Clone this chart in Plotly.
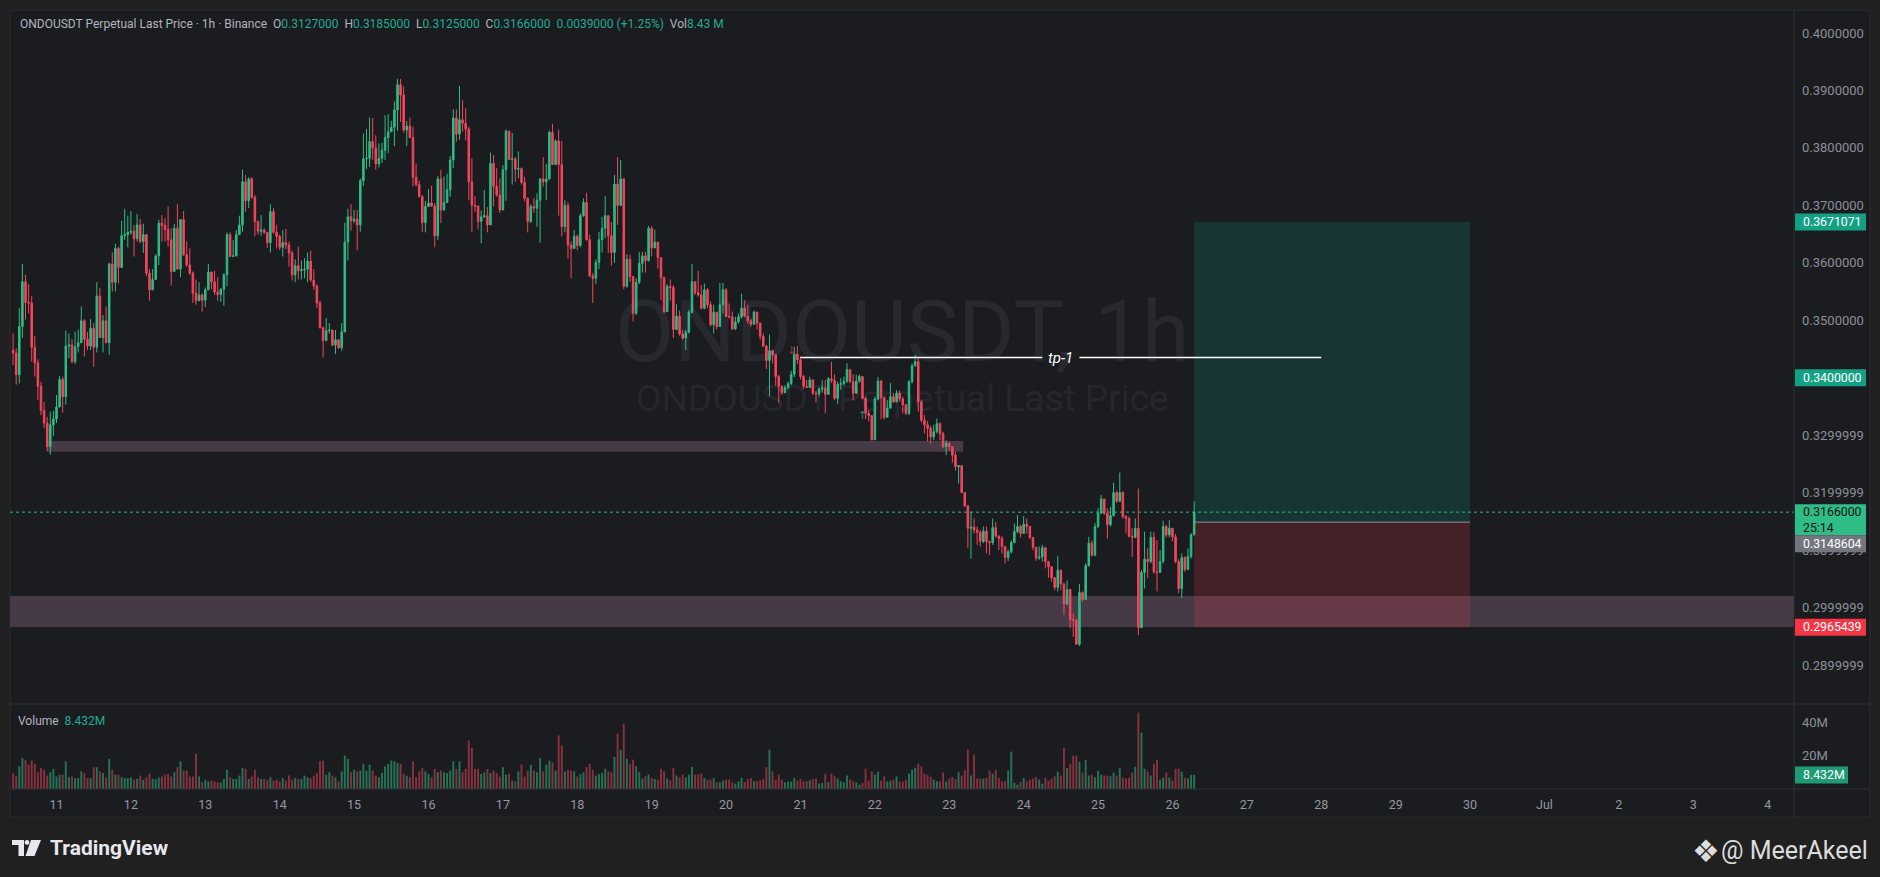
import pandas as pd
import plotly.graph_objects as go

# ---------------- data ----------------
first_bar = "2024-06-10 10:00"
first_open = 0.3448

close = [
    0.3443, 0.3405, 0.3489, 0.3567, 0.3531, 0.3530, 0.3453, 0.3426, 0.3385, 0.3343,
    0.3321, 0.3280, 0.3318, 0.3328, 0.3349, 0.3397, 0.3367, 0.3455, 0.3457, 0.3428,
    0.3454, 0.3461, 0.3499, 0.3467, 0.3455, 0.3486, 0.3453, 0.3542, 0.3470, 0.3499,
    0.3461, 0.3598, 0.3566, 0.3625, 0.3592, 0.3647, 0.3649, 0.3653, 0.3655, 0.3642,
    0.3666, 0.3637, 0.3649, 0.3582, 0.3553, 0.3571, 0.3612, 0.3669, 0.3665, 0.3658,
    0.3640, 0.3585, 0.3660, 0.3589, 0.3675, 0.3614, 0.3596, 0.3582, 0.3547, 0.3534,
    0.3544, 0.3535, 0.3553, 0.3584, 0.3567, 0.3549, 0.3545, 0.3554, 0.3579, 0.3649,
    0.3611, 0.3612, 0.3649, 0.3666, 0.3741, 0.3708, 0.3746, 0.3714, 0.3672, 0.3655,
    0.3657, 0.3653, 0.3635, 0.3689, 0.3653, 0.3646, 0.3627, 0.3635, 0.3631, 0.3617,
    0.3579, 0.3595, 0.3586, 0.3588, 0.3589, 0.3603, 0.3570, 0.3560, 0.3530, 0.3487,
    0.3465, 0.3482, 0.3483, 0.3457, 0.3466, 0.3452, 0.3480, 0.3636, 0.3680, 0.3673,
    0.3676, 0.3666, 0.3743, 0.3781, 0.3782, 0.3811, 0.3800, 0.3772, 0.3782, 0.3796,
    0.3818, 0.3828, 0.3836, 0.3866, 0.3910, 0.3892, 0.3831, 0.3838, 0.3818, 0.3749,
    0.3736, 0.3715, 0.3670, 0.3698, 0.3704, 0.3699, 0.3647, 0.3746, 0.3692, 0.3705,
    0.3727, 0.3779, 0.3852, 0.3824, 0.3849, 0.3843, 0.3833, 0.3741, 0.3700, 0.3699,
    0.3672, 0.3680, 0.3682, 0.3666, 0.3773, 0.3733, 0.3718, 0.3692, 0.3762, 0.3829,
    0.3780, 0.3781, 0.3763, 0.3764, 0.3740, 0.3712, 0.3672, 0.3698, 0.3695, 0.3709,
    0.3746, 0.3741, 0.3746, 0.3827, 0.3771, 0.3812, 0.3771, 0.3663, 0.3700, 0.3631,
    0.3625, 0.3646, 0.3630, 0.3682, 0.3705, 0.3640, 0.3577, 0.3573, 0.3601, 0.3640,
    0.3660, 0.3682, 0.3647, 0.3618, 0.3737, 0.3700, 0.3746, 0.3559, 0.3606, 0.3576,
    0.3512, 0.3566, 0.3599, 0.3612, 0.3604, 0.3660, 0.3626, 0.3636, 0.3609, 0.3574,
    0.3515, 0.3559, 0.3557, 0.3484, 0.3507, 0.3476, 0.3469, 0.3479, 0.3514, 0.3567,
    0.3548, 0.3544, 0.3521, 0.3553, 0.3527, 0.3492, 0.3514, 0.3489, 0.3527, 0.3553,
    0.3507, 0.3506, 0.3485, 0.3497, 0.3506, 0.3521, 0.3507, 0.3499, 0.3493, 0.3514,
    0.3495, 0.3472, 0.3455, 0.3430, 0.3447, 0.3440, 0.3402, 0.3385, 0.3374, 0.3383,
    0.3390, 0.3406, 0.3441, 0.3431, 0.3402, 0.3385, 0.3383, 0.3396, 0.3373, 0.3372,
    0.3380, 0.3382, 0.3371, 0.3398, 0.3395, 0.3364, 0.3388, 0.3390, 0.3394, 0.3414,
    0.3393, 0.3373, 0.3394, 0.3402, 0.3364, 0.3338, 0.3334, 0.3292, 0.3363, 0.3394,
    0.3365, 0.3331, 0.3347, 0.3367, 0.3358, 0.3373, 0.3363, 0.3353, 0.3338, 0.3393,
    0.3421, 0.3428, 0.3358, 0.3326, 0.3318, 0.3312, 0.3297, 0.3306, 0.3320, 0.3303,
    0.3280, 0.3286, 0.3280, 0.3265, 0.3245, 0.3247, 0.3200, 0.3177, 0.3138, 0.3140,
    0.3135, 0.3131, 0.3115, 0.3133, 0.3115, 0.3113, 0.3139, 0.3124, 0.3120, 0.3106,
    0.3087, 0.3097, 0.3113, 0.3132, 0.3141, 0.3129, 0.3145, 0.3141, 0.3122, 0.3105,
    0.3086, 0.3088, 0.3104, 0.3080, 0.3071, 0.3052, 0.3035, 0.3065, 0.3041, 0.3006,
    0.3031, 0.2979, 0.2978, 0.2936, 0.3026, 0.3014, 0.3073, 0.3112, 0.3091, 0.3141,
    0.3164, 0.3189, 0.3164, 0.3144, 0.3160, 0.3200, 0.3185, 0.3200, 0.3158, 0.3155,
    0.3124, 0.3122, 0.3138, 0.2965, 0.3061, 0.3084, 0.3080, 0.3122, 0.3062, 0.3061,
    0.3080, 0.3141, 0.3126, 0.3138, 0.3123, 0.3080, 0.3033, 0.3087, 0.3066, 0.3089,
    0.3127, 0.3166,
]

high = [
    0.3477, 0.3451, 0.3521, 0.3598, 0.3579, 0.3563, 0.3542, 0.3473, 0.3432, 0.3393,
    0.3358, 0.3332, 0.3341, 0.3342, 0.3370, 0.3403, 0.3402, 0.3482, 0.3477, 0.3467,
    0.3480, 0.3484, 0.3524, 0.3502, 0.3480, 0.3502, 0.3495, 0.3566, 0.3556, 0.3509,
    0.3524, 0.3600, 0.3618, 0.3633, 0.3628, 0.3673, 0.3694, 0.3682, 0.3690, 0.3666,
    0.3685, 0.3676, 0.3668, 0.3649, 0.3589, 0.3589, 0.3615, 0.3675, 0.3683, 0.3678,
    0.3698, 0.3660, 0.3668, 0.3702, 0.3676, 0.3690, 0.3637, 0.3625, 0.3585, 0.3571,
    0.3566, 0.3547, 0.3557, 0.3598, 0.3584, 0.3586, 0.3575, 0.3556, 0.3582, 0.3653,
    0.3653, 0.3640, 0.3657, 0.3682, 0.3762, 0.3753, 0.3749, 0.3749, 0.3718, 0.3673,
    0.3683, 0.3660, 0.3653, 0.3702, 0.3695, 0.3666, 0.3649, 0.3657, 0.3659, 0.3637,
    0.3621, 0.3606, 0.3628, 0.3604, 0.3608, 0.3618, 0.3621, 0.3589, 0.3562, 0.3534,
    0.3489, 0.3504, 0.3495, 0.3483, 0.3483, 0.3467, 0.3495, 0.3670, 0.3694, 0.3702,
    0.3692, 0.3692, 0.3747, 0.3825, 0.3833, 0.3853, 0.3852, 0.3822, 0.3808, 0.3809,
    0.3857, 0.3859, 0.3847, 0.3881, 0.3920, 0.3920, 0.3907, 0.3847, 0.3853, 0.3837,
    0.3773, 0.3743, 0.3718, 0.3708, 0.3728, 0.3734, 0.3704, 0.3751, 0.3762, 0.3750,
    0.3755, 0.3786, 0.3867, 0.3867, 0.3908, 0.3883, 0.3869, 0.3837, 0.3782, 0.3716,
    0.3699, 0.3691, 0.3727, 0.3697, 0.3792, 0.3788, 0.3765, 0.3747, 0.3770, 0.3832,
    0.3829, 0.3826, 0.3784, 0.3794, 0.3766, 0.3750, 0.3714, 0.3702, 0.3713, 0.3721,
    0.3747, 0.3784, 0.3772, 0.3830, 0.3842, 0.3815, 0.3832, 0.3812, 0.3709, 0.3705,
    0.3637, 0.3657, 0.3649, 0.3686, 0.3712, 0.3722, 0.3649, 0.3582, 0.3606, 0.3654,
    0.3680, 0.3716, 0.3683, 0.3671, 0.3753, 0.3784, 0.3779, 0.3747, 0.3615, 0.3614,
    0.3577, 0.3573, 0.3619, 0.3619, 0.3619, 0.3664, 0.3664, 0.3658, 0.3625, 0.3608,
    0.3576, 0.3563, 0.3571, 0.3561, 0.3528, 0.3517, 0.3483, 0.3483, 0.3518, 0.3598,
    0.3567, 0.3586, 0.3561, 0.3564, 0.3556, 0.3533, 0.3527, 0.3512, 0.3565, 0.3565,
    0.3556, 0.3529, 0.3515, 0.3506, 0.3512, 0.3546, 0.3535, 0.3527, 0.3503, 0.3517,
    0.3515, 0.3496, 0.3477, 0.3457, 0.3475, 0.3448, 0.3441, 0.3405, 0.3387, 0.3387,
    0.3393, 0.3412, 0.3454, 0.3455, 0.3437, 0.3405, 0.3396, 0.3402, 0.3397, 0.3377,
    0.3383, 0.3396, 0.3396, 0.3401, 0.3428, 0.3406, 0.3393, 0.3399, 0.3402, 0.3425,
    0.3415, 0.3406, 0.3405, 0.3406, 0.3402, 0.3367, 0.3344, 0.3335, 0.3367, 0.3401,
    0.3396, 0.3367, 0.3361, 0.3391, 0.3373, 0.3378, 0.3378, 0.3367, 0.3352, 0.3396,
    0.3425, 0.3440, 0.3434, 0.3361, 0.3335, 0.3325, 0.3316, 0.3318, 0.3329, 0.3322,
    0.3306, 0.3291, 0.3289, 0.3280, 0.3271, 0.3248, 0.3247, 0.3200, 0.3178, 0.3167,
    0.3155, 0.3141, 0.3135, 0.3141, 0.3141, 0.3116, 0.3155, 0.3149, 0.3126, 0.3124,
    0.3107, 0.3101, 0.3117, 0.3146, 0.3161, 0.3144, 0.3159, 0.3155, 0.3142, 0.3122,
    0.3105, 0.3106, 0.3109, 0.3106, 0.3080, 0.3071, 0.3052, 0.3090, 0.3066, 0.3043,
    0.3047, 0.3033, 0.2990, 0.2981, 0.3041, 0.3028, 0.3077, 0.3123, 0.3117, 0.3147,
    0.3173, 0.3196, 0.3189, 0.3173, 0.3175, 0.3217, 0.3203, 0.3235, 0.3202, 0.3161,
    0.3158, 0.3138, 0.3155, 0.3207, 0.3065, 0.3132, 0.3103, 0.3132, 0.3132, 0.3117,
    0.3100, 0.3151, 0.3144, 0.3152, 0.3138, 0.3128, 0.3084, 0.3094, 0.3089, 0.3103,
    0.3129, 0.3185,
]

low = [
    0.3422, 0.3388, 0.3390, 0.3469, 0.3501, 0.3512, 0.3428, 0.3402, 0.3361, 0.3335,
    0.3312, 0.3272, 0.3266, 0.3298, 0.3321, 0.3350, 0.3339, 0.3353, 0.3434, 0.3425,
    0.3424, 0.3444, 0.3460, 0.3437, 0.3448, 0.3448, 0.3419, 0.3444, 0.3469, 0.3444,
    0.3460, 0.3440, 0.3550, 0.3550, 0.3564, 0.3591, 0.3640, 0.3627, 0.3649, 0.3611,
    0.3637, 0.3634, 0.3617, 0.3577, 0.3534, 0.3553, 0.3570, 0.3596, 0.3637, 0.3637,
    0.3628, 0.3560, 0.3585, 0.3588, 0.3575, 0.3612, 0.3593, 0.3579, 0.3530, 0.3527,
    0.3534, 0.3515, 0.3523, 0.3553, 0.3554, 0.3544, 0.3534, 0.3532, 0.3525, 0.3559,
    0.3610, 0.3611, 0.3611, 0.3649, 0.3654, 0.3689, 0.3695, 0.3711, 0.3646, 0.3649,
    0.3647, 0.3650, 0.3626, 0.3618, 0.3651, 0.3625, 0.3622, 0.3611, 0.3624, 0.3593,
    0.3569, 0.3566, 0.3571, 0.3571, 0.3573, 0.3566, 0.3567, 0.3553, 0.3521, 0.3486,
    0.3435, 0.3463, 0.3477, 0.3455, 0.3441, 0.3450, 0.3447, 0.3479, 0.3604, 0.3656,
    0.3669, 0.3622, 0.3654, 0.3734, 0.3763, 0.3767, 0.3779, 0.3762, 0.3766, 0.3774,
    0.3779, 0.3791, 0.3828, 0.3803, 0.3830, 0.3845, 0.3827, 0.3803, 0.3817, 0.3733,
    0.3733, 0.3714, 0.3654, 0.3653, 0.3697, 0.3697, 0.3627, 0.3640, 0.3669, 0.3691,
    0.3704, 0.3715, 0.3765, 0.3811, 0.3814, 0.3828, 0.3813, 0.3709, 0.3654, 0.3689,
    0.3658, 0.3634, 0.3678, 0.3653, 0.3666, 0.3698, 0.3715, 0.3687, 0.3692, 0.3708,
    0.3779, 0.3736, 0.3741, 0.3747, 0.3736, 0.3707, 0.3653, 0.3669, 0.3687, 0.3663,
    0.3635, 0.3733, 0.3709, 0.3744, 0.3770, 0.3779, 0.3682, 0.3646, 0.3653, 0.3607,
    0.3573, 0.3624, 0.3622, 0.3627, 0.3680, 0.3639, 0.3576, 0.3530, 0.3563, 0.3589,
    0.3618, 0.3643, 0.3617, 0.3595, 0.3600, 0.3666, 0.3699, 0.3554, 0.3557, 0.3567,
    0.3498, 0.3509, 0.3563, 0.3583, 0.3583, 0.3602, 0.3611, 0.3627, 0.3590, 0.3535,
    0.3512, 0.3515, 0.3534, 0.3469, 0.3483, 0.3473, 0.3466, 0.3448, 0.3477, 0.3512,
    0.3544, 0.3541, 0.3519, 0.3519, 0.3521, 0.3489, 0.3477, 0.3484, 0.3489, 0.3512,
    0.3506, 0.3503, 0.3483, 0.3483, 0.3494, 0.3503, 0.3505, 0.3494, 0.3489, 0.3494,
    0.3484, 0.3466, 0.3453, 0.3415, 0.3368, 0.3425, 0.3386, 0.3356, 0.3370, 0.3373,
    0.3380, 0.3387, 0.3401, 0.3424, 0.3397, 0.3380, 0.3382, 0.3384, 0.3370, 0.3357,
    0.3367, 0.3374, 0.3338, 0.3372, 0.3391, 0.3361, 0.3354, 0.3379, 0.3386, 0.3391,
    0.3390, 0.3361, 0.3373, 0.3391, 0.3362, 0.3328, 0.3324, 0.3291, 0.3292, 0.3361,
    0.3328, 0.3327, 0.3330, 0.3347, 0.3356, 0.3357, 0.3358, 0.3338, 0.3335, 0.3335,
    0.3390, 0.3419, 0.3341, 0.3322, 0.3303, 0.3289, 0.3285, 0.3291, 0.3303, 0.3291,
    0.3277, 0.3265, 0.3273, 0.3252, 0.3238, 0.3216, 0.3199, 0.3175, 0.3103, 0.3085,
    0.3129, 0.3109, 0.3106, 0.3112, 0.3094, 0.3091, 0.3109, 0.3122, 0.3100, 0.3094,
    0.3077, 0.3081, 0.3094, 0.3112, 0.3129, 0.3122, 0.3128, 0.3129, 0.3119, 0.3100,
    0.3081, 0.3083, 0.3080, 0.3068, 0.3052, 0.3045, 0.3030, 0.3028, 0.3030, 0.2987,
    0.3004, 0.2964, 0.2949, 0.2936, 0.2933, 0.3010, 0.3013, 0.3071, 0.3089, 0.3089,
    0.3138, 0.3164, 0.3161, 0.3120, 0.3141, 0.3158, 0.3182, 0.3184, 0.3155, 0.3129,
    0.3122, 0.3088, 0.3122, 0.2952, 0.2964, 0.3033, 0.3051, 0.3077, 0.3059, 0.3028,
    0.3061, 0.3077, 0.3122, 0.3122, 0.3115, 0.3077, 0.3025, 0.3016, 0.3062, 0.3065,
    0.3085, 0.3125,
]

volume_m = [
    9.5, 8, 13.5, 18.5, 17.5, 14.5, 17, 15, 10, 12.5,
    11.5, 8, 10, 12, 7.5, 8.5, 8.5, 16.5, 7, 7.5,
    6.5, 6.5, 10.5, 9.5, 6.5, 6.5, 13, 13, 10.5, 9.5,
    7, 18, 11.5, 8.5, 8.5, 7, 6.5, 6.5, 7, 5.5,
    6, 8, 5.5, 7, 9, 6, 6, 7, 7.5, 8.5,
    9, 7.5, 10, 13, 16.5, 11, 11, 7.5, 7.5, 21,
    7.5, 4, 5.5, 4.5, 5, 4.5, 4, 4, 6, 11.5,
    7, 6, 6, 8, 12.5, 12, 6, 7.5, 11.5, 7,
    6, 6, 5.5, 7, 5, 5.5, 4.5, 6.5, 5, 8,
    5.5, 6.5, 6, 6, 8, 7, 6.5, 8, 9.5, 16.5,
    17, 8.5, 10, 8, 7, 4.5, 10.5, 20, 18, 10,
    11.5, 10.5, 11, 15, 11, 14.5, 11, 8, 7, 9.5,
    13.5, 15, 17, 16.5, 15.5, 15, 9, 8, 7, 16.5,
    7, 10.5, 12.5, 10.5, 9, 7, 12, 10, 11, 10,
    9.5, 11, 16.5, 12, 16.5, 10, 12, 29, 24.5, 12,
    12, 9, 10, 12, 9.5, 11, 9.5, 7.5, 13, 8.5,
    9, 5, 4.5, 10.5, 14.5, 7.5, 11, 14.5, 11, 10,
    18.5, 10.5, 14.5, 17, 16, 11, 32, 26, 10.5, 11.5,
    11, 10.5, 7.5, 9, 10, 13, 15, 11.5, 8, 9,
    9.6, 12.1, 10.5, 10.0, 19.1, 33.0, 23.5, 39.0, 18.1, 15.1,
    17.5, 13.5, 10.0, 6.2, 7.6, 8.6, 6.6, 6.0, 5.6, 12.1,
    10.5, 6.2, 5.2, 12.5, 8.0, 7.0, 8.6, 7.0, 8.6, 13.1,
    8.6, 8.6, 9.2, 6.6, 5.6, 5.6, 6.6, 4.0, 4.0, 5.0,
    5.6, 5.6, 4.0, 3.2, 4.6, 6.6, 4.2, 6.0, 6.6, 4.6,
    4.6, 5.2, 6.2, 13.1, 23.5, 10.5, 5.6, 8.6, 5.6, 4.0,
    4.4, 4.4, 6.6, 5.0, 6.0, 4.6, 4.6, 5.2, 6.0, 6.2,
    3.2, 3.6, 9.2, 4.0, 9.2, 7.6, 6.2, 4.6, 4.0, 8.0,
    5.6, 4.6, 4.0, 2.6, 3.6, 12.1, 5.0, 10.5, 8.6, 10.3,
    5.0, 7.6, 4.6, 5.0, 5.6, 7.4, 4.4, 4.4, 5.6, 9.2,
    11.5, 12.7, 15.1, 13.5, 9.2, 8.4, 7.2, 5.6, 4.6, 4.6,
    9.8, 4.4, 6.2, 7.2, 6.0, 10.0, 8.0, 11.1, 23.5, 8.0,
    20.5, 6.2, 6.2, 6.2, 6.6, 11.1, 9.2, 11.5, 6.6, 4.6,
    4.6, 11.1, 22.3, 3.8, 2.6, 4.2, 6.6, 4.6, 5.6, 6.2,
    7.2, 5.6, 3.2, 6.6, 5.0, 6.2, 7.6, 10.3, 8.0, 24.7,
    12.5, 15.1, 19.9, 19.9, 16.3, 9.8, 17.3, 8.0, 8.6, 7.0,
    10.9, 8.6, 8.0, 8.0, 7.6, 9.8, 8.0, 12.5, 6.8, 6.2,
    6.8, 9.8, 13.3, 45.6, 33.6, 12.1, 10.5, 8.0, 15.1, 17.5,
    5.6, 6.8, 9.8, 6.8, 5.0, 12.1, 12.1, 10.3, 6.8, 6.2,
    8.4, 8.432,
]

day_labels = ["11", "12", "13", "14", "15", "16", "17", "18", "19", "20",
              "21", "22", "23", "24", "25", "26", "27", "28", "29", "30",
              "Jul", "2", "3", "4"]
price_ticks = [0.29, 0.30, 0.31, 0.32, 0.33, 0.34, 0.35, 0.36, 0.37, 0.38, 0.39, 0.40]
price_tick_labels = ["0.2899999", "0.2999999", "0.3099999", "0.3199999", "0.3299999",
                     "0.3400000", "0.3500000", "0.3600000", "0.3700000", "0.3800000",
                     "0.3900000", "0.4000000"]
vol_ticks = [20e6, 40e6]
vol_tick_labels = ["20M", "40M"]

target_price = 0.3671071
entry_price = 0.3148604
stop_price = 0.2965439
tp_label_price = 0.3400000
tp1_price = 0.3435
zone_upper = (0.3271, 0.3290)
zone_lower = (0.2966, 0.3020)
position_start = "2024-06-26 07:00"
position_end = "2024-06-30 00:00"
zone_upper_start = "2024-06-10 21:00"
zone_upper_end = "2024-06-23 04:30"
tp1_start = "2024-06-21 00:00"
tp1_gap = ("2024-06-24 06:00", "2024-06-24 18:00")
tp1_text_at = "2024-06-24 12:00"
tp1_end = "2024-06-28 00:00"
countdown = "25:14"

# ---------------- derived ----------------
n = len(close)
opens = [first_open] + close[:-1]
high = [max(h, o, c) for h, o, c in zip(high, opens, close)]
low = [min(l, o, c) for l, o, c in zip(low, opens, close)]
times = pd.date_range(first_bar, periods=n, freq="h")
day_ticks = pd.date_range("2024-06-11", periods=len(day_labels), freq="D")
vol = [v * 1e6 for v in volume_m[:n]]

UP, DN = "#2ebd85", "#f6465d"
UPV, DNV = "rgba(46,189,133,0.55)", "rgba(246,70,93,0.50)"
is_up = [c >= o for o, c in zip(opens, close)]

# ---------------- geometry ----------------
W, H = 1880, 877
ML, MR, MT, MB = 10, 86, 12, 88
PW, PH = W - ML - MR, H - MT - MB
SPLIT = 704          # px between price and volume panes


def px(x):
    return (x - ML) / PW


def py(y):
    return (H - MB - y) / PH


vol_dom = py(SPLIT)
FONT = "Roboto, sans-serif"
PANEL = "#1b1c20"
LINE = "#2e3038"

fig = go.Figure()
fig.add_trace(go.Candlestick(
    x=times, open=opens, high=high, low=low, close=close,
    increasing=dict(line=dict(color=UP, width=1), fillcolor=UP),
    decreasing=dict(line=dict(color=DN, width=1), fillcolor=DN),
    whiskerwidth=0, showlegend=False, hoverinfo="skip", yaxis="y", xaxis="x"))
fig.add_trace(go.Bar(
    x=times, y=vol, marker=dict(color=[UPV if u else DNV for u in is_up], line=dict(width=0)),
    width=0.62 * 3600 * 1000, showlegend=False, hoverinfo="skip", yaxis="y2", xaxis="x"))

shapes = []
# chart panel
shapes.append(dict(type="rect", xref="paper", yref="paper", x0=px(10), x1=px(1870),
                   y0=py(10), y1=py(817), fillcolor=PANEL, line=dict(color="#2a2b30", width=1),
                   layer="below"))
# zones
shapes.append(dict(type="rect", xref="x", yref="y", x0=zone_upper_start, x1=zone_upper_end,
                   y0=zone_upper[0], y1=zone_upper[1], fillcolor="#463a46", line=dict(width=0),
                   layer="below"))
shapes.append(dict(type="rect", xref="paper", yref="y", x0=0, x1=1,
                   y0=zone_lower[0], y1=zone_lower[1], fillcolor="#463a46", line=dict(width=0),
                   layer="below"))
# long position tool
shapes.append(dict(type="rect", xref="x", yref="y", x0=position_start, x1=position_end,
                   y0=entry_price, y1=target_price, fillcolor="rgba(8,153,129,0.20)",
                   line=dict(width=0), layer="below"))
shapes.append(dict(type="rect", xref="x", yref="y", x0=position_start, x1=position_end,
                   y0=stop_price, y1=entry_price, fillcolor="rgba(242,54,69,0.20)",
                   line=dict(width=0), layer="below"))
shapes.append(dict(type="line", xref="x", yref="y", x0=position_start, x1=position_end,
                   y0=entry_price, y1=entry_price, line=dict(color="#8f929b", width=1)))
# last price dotted line
shapes.append(dict(type="line", xref="paper", yref="y", x0=0, x1=1, y0=close[-1], y1=close[-1],
                   line=dict(color=UP, width=1, dash="dot")))
# tp-1 line
shapes.append(dict(type="line", xref="x", yref="y", x0=tp1_start, x1=tp1_gap[0],
                   y0=tp1_price, y1=tp1_price, line=dict(color="#ffffff", width=1.5)))
shapes.append(dict(type="line", xref="x", yref="y", x0=tp1_gap[1], x1=tp1_end,
                   y0=tp1_price, y1=tp1_price, line=dict(color="#ffffff", width=1.5)))
# pane separators and axis border
for yy in (SPLIT, 789):
    shapes.append(dict(type="line", xref="paper", yref="paper", x0=px(10), x1=px(1870),
                       y0=py(yy), y1=py(yy), line=dict(color=LINE, width=1)))
shapes.append(dict(type="line", xref="paper", yref="paper", x0=1, x1=1, y0=py(10), y1=py(817),
                   line=dict(color=LINE, width=1)))


# price-axis labels
def axis_label(value, text, bg, fg="#ffffff", yref="y", x1=1866, half=8.5, shift=0):
    shapes.append(dict(type="rect", xref="paper", yref=yref, x0=px(1795), x1=px(x1),
                       ysizemode="pixel", yanchor=value, y0=-half + shift, y1=half + shift,
                       fillcolor=bg, line=dict(width=0), layer="above"))
    return dict(xref="paper", yref=yref, x=px(1801), y=value, xanchor="left", yanchor="middle",
                yshift=shift, text=text, showarrow=False, align="left",
                font=dict(family=FONT, size=12.3, color=fg))


annotations = []
annotations.append(axis_label(target_price, f"{target_price:.7f}", "#13a184"))
annotations.append(axis_label(tp_label_price, f"{tp_label_price:.7f}", "#13a184"))
annotations.append(axis_label(close[-1], f"{close[-1]:.7f}<br>{countdown}", UP, fg="#10131a",
                              half=15.5, shift=-7.5))
annotations.append(axis_label(entry_price, f"{entry_price:.7f}", "#73767f", shift=-21.5))
annotations.append(axis_label(stop_price, f"{stop_price:.7f}", "#f23645"))
annotations.append(axis_label(vol[-1], f"{volume_m[-1]:.3f}M", "#1e9b74", yref="y2", x1=1848))

# header
G, V = "#b2b5be", "#22ab94"
chg = close[-1] - opens[-1]
pct = chg / opens[-1] * 100
sp = "\u00a0\u00a0"
header = (f"<span style='color:{G}'>ONDOUSDT Perpetual Last Price · 1h · Binance</span>{sp}"
          f"<span style='color:{G}'>O</span><span style='color:{V}'>{opens[-1]:.7f}</span>{sp}"
          f"<span style='color:{G}'>H</span><span style='color:{V}'>{high[-1]:.7f}</span>{sp}"
          f"<span style='color:{G}'>L</span><span style='color:{V}'>{low[-1]:.7f}</span>{sp}"
          f"<span style='color:{G}'>C</span><span style='color:{V}'>{close[-1]:.7f}</span>{sp}"
          f"<span style='color:{V}'>{chg:.7f} (+{pct:.2f}%)</span>{sp}"
          f"<span style='color:{G}'>Vol</span><span style='color:{V}'>{volume_m[-1]:.2f} M</span>")
annotations.append(dict(xref="paper", yref="paper", x=px(18), y=py(24), xanchor="left",
                        yanchor="middle", text=header, showarrow=False,
                        font=dict(family=FONT, size=12, color=G)))
# watermark
annotations.append(dict(xref="paper", yref="paper", x=px(902), y=py(331), xanchor="center",
                        yanchor="middle", text="ONDOUSDT, 1h", showarrow=False,
                        font=dict(family=FONT, size=86, color="rgba(150,155,170,0.11)")))
annotations.append(dict(xref="paper", yref="paper", x=px(902), y=py(398), xanchor="center",
                        yanchor="middle", text="ONDOUSDT Perpetual Last Price", showarrow=False,
                        font=dict(family=FONT, size=37, color="rgba(150,155,170,0.11)")))
# tp-1 label
annotations.append(dict(xref="x", yref="y", x=tp1_text_at, y=tp1_price, xanchor="center",
                        yanchor="middle", text="<i>tp-1</i>", showarrow=False,
                        font=dict(family=FONT, size=15, color="#ffffff")))
# small signal arrows
annotations.append(dict(xref="paper", yref="paper", x=px(791), y=py(350), text="↓",
                        showarrow=False, font=dict(family="DejaVu Sans", size=11, color="#a8323f")))
annotations.append(dict(xref="paper", yref="paper", x=px(862), y=py(416), text="↑",
                        showarrow=False, font=dict(family="DejaVu Sans", size=11, color="#1f8a66")))
# volume legend
annotations.append(dict(xref="paper", yref="paper", x=px(16), y=py(721), xanchor="left",
                        yanchor="middle", showarrow=False,
                        text=f"<span style='color:{G}'>Volume</span>\u00a0\u00a0"
                             f"<span style='color:{V}'>{volume_m[-1]:.3f}M</span>",
                        font=dict(family=FONT, size=12, color=G)))
# footer
annotations.append(dict(xref="paper", yref="paper", x=px(48), y=py(848), xanchor="left",
                        yanchor="middle", text="<b>TradingView</b>", showarrow=False,
                        font=dict(family=FONT, size=21, color="#e6e8ee")))
annotations.append(dict(xref="paper", yref="paper", x=px(1870), y=py(850), xanchor="right",
                        yanchor="middle", text="@ MeerAkeel", showarrow=False,
                        font=dict(family="Roboto", size=25, color="#dcdcdc")))
annotations.append(dict(xref="paper", yref="paper", x=px(1706), y=py(851), xanchor="center",
                        yanchor="middle", text="❖", showarrow=False,
                        font=dict(family="DejaVu Sans", size=31, color="#dcdcdc")))


def path(points):
    return "M " + " L ".join(f"{px(a):.6f},{py(b):.6f}" for a, b in points) + " Z"


LOGO = "#e6e8ee"
shapes.append(dict(type="path", xref="paper", yref="paper", fillcolor=LOGO, line=dict(width=0),
                   path=path([(12, 840), (24, 840), (24, 856), (18.5, 856), (18.5, 845), (12, 845)])))
shapes.append(dict(type="circle", xref="paper", yref="paper", fillcolor=LOGO, line=dict(width=0),
                   x0=px(24.6), x1=px(29.4), y0=py(840), y1=py(844.8)))
shapes.append(dict(type="path", xref="paper", yref="paper", fillcolor=LOGO, line=dict(width=0),
                   path=path([(31, 840), (41, 840), (34.5, 856), (25.5, 856)])))

fig.update_layout(
    width=W, height=H, margin=dict(l=ML, r=MR, t=MT, b=MB),
    paper_bgcolor="#202020", plot_bgcolor="rgba(0,0,0,0)",
    showlegend=False, hovermode=False, boxgap=0.3,
    shapes=shapes, annotations=annotations,
    xaxis=dict(type="date", range=["2024-06-10 09:00", "2024-07-04 08:30"], anchor="y2",
               rangeslider=dict(visible=False), showgrid=False, zeroline=False, showline=False,
               tickvals=list(day_ticks), ticktext=day_labels, ticks="", ticklabelstandoff=6,
               tickfont=dict(family=FONT, size=12.5, color="#9598a1")),
    yaxis=dict(domain=[vol_dom, 1], range=[0.283203, 0.403655], side="right", anchor="x",
               showgrid=False, zeroline=False, showline=False, ticks="",
               tickvals=price_ticks, ticktext=price_tick_labels, ticklabelstandoff=7,
               tickfont=dict(family=FONT, size=13, color="#8c8f98")),
    yaxis2=dict(domain=[0, vol_dom], range=[0, 50.75e6], side="right", anchor="x",
                showgrid=False, zeroline=False, showline=False, ticks="",
                tickvals=vol_ticks, ticktext=vol_tick_labels, ticklabelstandoff=7,
                tickfont=dict(family=FONT, size=13, color="#8c8f98")),
)

fig.write_html(
    "out.html",
    config={"displayModeBar": False},
    post_script="document.body.style.margin='0';document.body.style.background='#202020';",
)
